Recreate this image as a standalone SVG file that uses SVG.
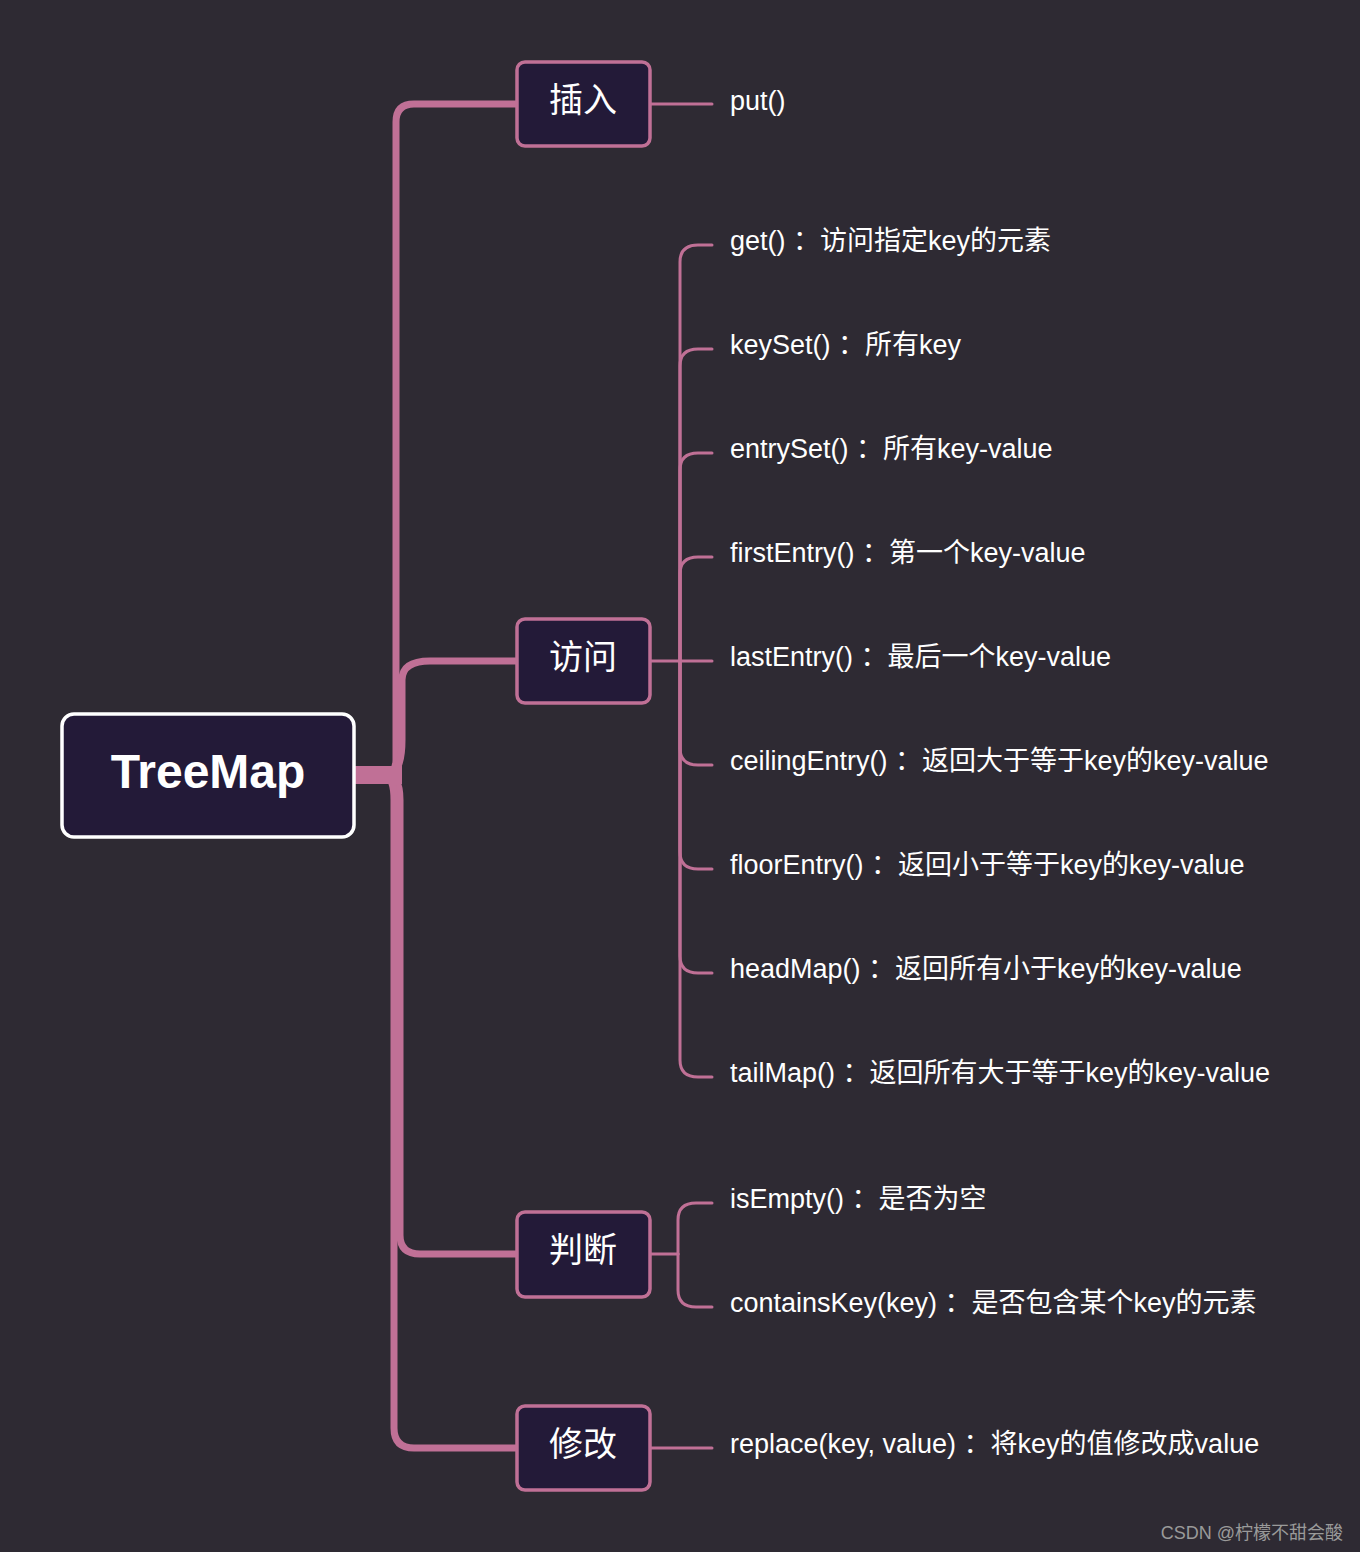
<svg xmlns="http://www.w3.org/2000/svg" width="1360" height="1552" viewBox="0 0 1360 1552">
<style>
.t{font-family:"Liberation Sans","Noto Sans CJK SC",sans-serif;fill:#ffffff}
.b{fill:#231a38;stroke:#c07096;stroke-width:3.5}
.bt{font-size:34px;text-anchor:middle;dominant-baseline:central}
.lf{font-size:27px;dominant-baseline:central}
.c{fill:none;stroke:#c07096;stroke-linecap:round}
</style>
<rect width="1360" height="1552" fill="#2e2a33"/>
<g id="connectors">
<g class="c" stroke-width="7">
<path d="M354,775 H382 Q396,775 396,760 V122 Q396,104 414,104 H517"/>
<path d="M354,775 H386 Q402,775 402,740 V680 Q402,661 430,661 H517"/>
<path d="M354,775 H386 Q400,775 400,800 V1235 Q400,1254 420,1254 H517"/>
<path d="M354,775 H382 Q394,775 394,800 V1428 Q394,1448 414,1448 H517"/>
</g>
<rect x="354" y="766" width="48" height="18" fill="#c07096"/>
<g class="c" stroke-width="3">
<path d="M650,104 H712"/>
<path d="M650,1448 H712"/>
<path d="M650,661 H712"/>
<path d="M680,661 V262 Q680,245 698,245 H712"/>
<path d="M680,661 V366 Q680,349 698,349 H712"/>
<path d="M680,661 V470 Q680,453 698,453 H712"/>
<path d="M680,661 V574 Q680,557 698,557 H712"/>
<path d="M680,661 V748 Q680,765 698,765 H712"/>
<path d="M680,661 V852 Q680,869 698,869 H712"/>
<path d="M680,661 V956 Q680,973 698,973 H712"/>
<path d="M680,661 V1060 Q680,1077 698,1077 H712"/>
<path d="M650,1254 H678"/>
<path d="M678,1254 V1220 Q678,1203 696,1203 H712"/>
<path d="M678,1254 V1290 Q678,1307 696,1307 H712"/>
</g>
</g>
<g id="root"><rect x="62" y="714" width="292" height="123" rx="12" fill="#231a38" stroke="#ffffff" stroke-width="3.5"/><text class="t" x="208" y="771" font-size="48" font-weight="bold" text-anchor="middle" dominant-baseline="central">TreeMap</text></g>
<g id="n-insert"><rect class="b" x="517" y="62" width="133" height="84" rx="8"/><text class="t bt" x="583" y="100">插入</text></g>
<g id="n-access"><rect class="b" x="517" y="619" width="133" height="84" rx="8"/><text class="t bt" x="583" y="657">访问</text></g>
<g id="n-judge"><rect class="b" x="517" y="1212" width="133" height="85" rx="8"/><text class="t bt" x="583" y="1250">判断</text></g>
<g id="n-modify"><rect class="b" x="517" y="1406" width="133" height="84" rx="8"/><text class="t bt" x="583" y="1444">修改</text></g>
<g id="leaves">
<text class="t lf" x="730" y="101">put()</text>
<text class="t lf" x="730" y="241">get() ：访问指定key的元素</text>
<text class="t lf" x="730" y="345">keySet() ：所有key</text>
<text class="t lf" x="730" y="449">entrySet() ：所有key-value</text>
<text class="t lf" x="730" y="553">firstEntry() ：第一个key-value</text>
<text class="t lf" x="730" y="657">lastEntry() ：最后一个key-value</text>
<text class="t lf" x="730" y="761">ceilingEntry() ：返回大于等于key的key-value</text>
<text class="t lf" x="730" y="865">floorEntry() ：返回小于等于key的key-value</text>
<text class="t lf" x="730" y="969">headMap() ：返回所有小于key的key-value</text>
<text class="t lf" x="730" y="1073">tailMap() ：返回所有大于等于key的key-value</text>
<text class="t lf" x="730" y="1199">isEmpty() ：是否为空</text>
<text class="t lf" x="730" y="1303">containsKey(key) ：是否包含某个key的元素</text>
<text class="t lf" x="730" y="1444">replace(key, value) ：将key的值修改成value</text>
</g>
<text x="1343" y="1539" font-family="Liberation Sans,Noto Sans CJK SC,sans-serif" font-size="18" fill="#9a9a9a" text-anchor="end">CSDN @柠檬不甜会酸</text>
</svg>
